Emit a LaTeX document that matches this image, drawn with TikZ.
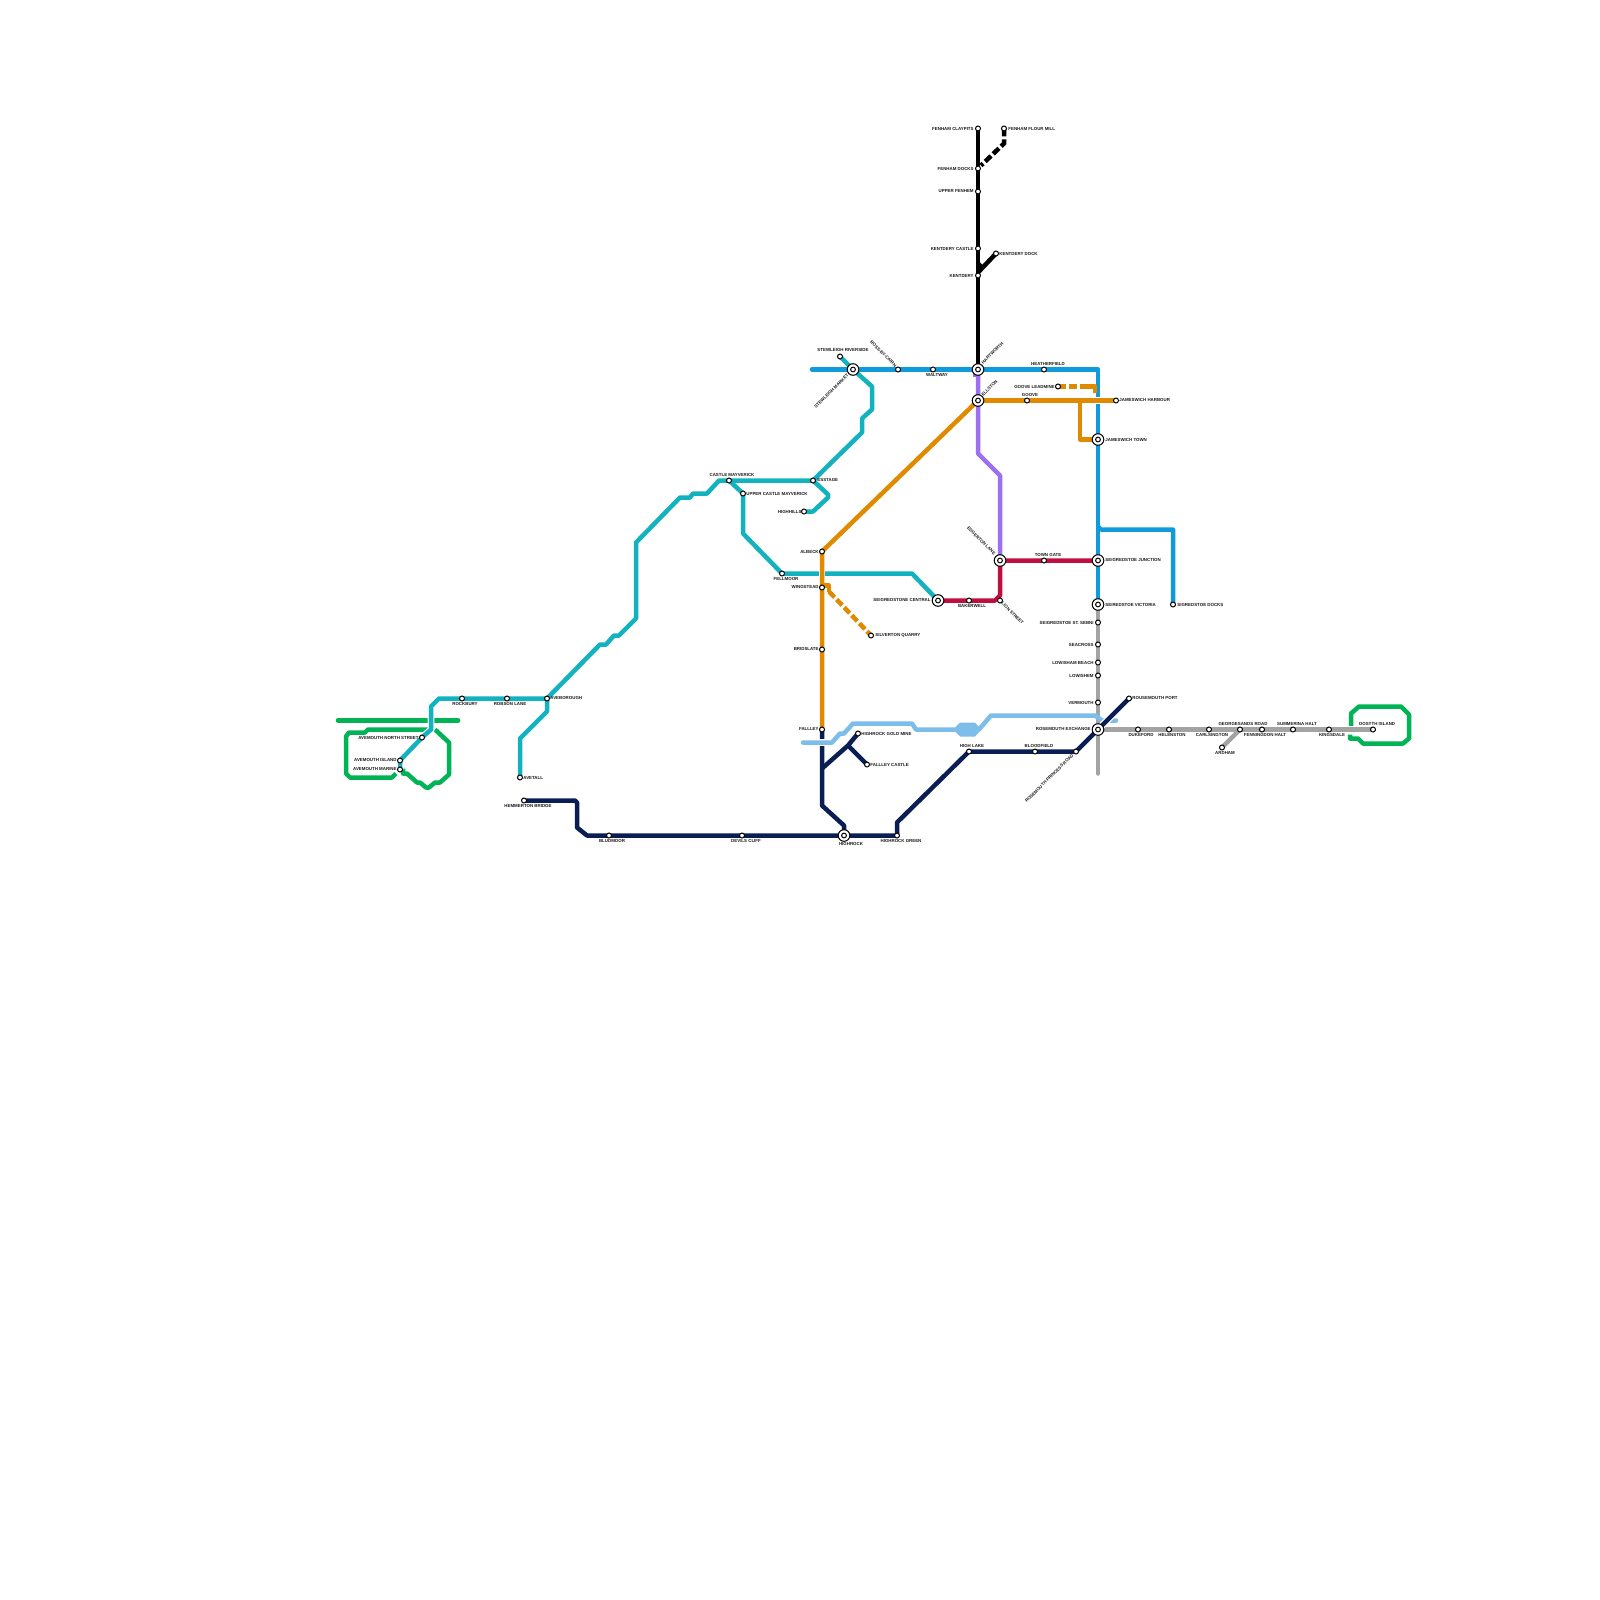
\documentclass[tikz,border=0pt]{standalone}
\usepackage{fontspec}
\setmainfont{Liberation Sans}
\usepackage{xcolor}
\usetikzlibrary{backgrounds}
\definecolor{mapteal}{HTML}{12B3BF}
\definecolor{mapblue}{HTML}{0E9ADB}
\definecolor{maporange}{HTML}{E08A00}
\definecolor{mappurple}{HTML}{9C70EE}
\definecolor{mapred}{HTML}{C00F3E}
\definecolor{mapnavy}{HTML}{0B1E54}
\definecolor{mapsky}{HTML}{7CBDEA}
\definecolor{mapgray}{HTML}{A3A3A3}
\definecolor{mapgreen}{HTML}{00B354}

\begin{document}
\begin{tikzpicture}[x=0.5pt, y=-0.5pt,
    stn/.style={circle, draw=black, fill=white, line width=0.5pt,
                minimum size=2.5pt, inner sep=0pt},
    xchg/.style={circle, draw=black, fill=white, line width=0.5pt,
                 minimum size=5.8pt, inner sep=0pt},
    xcore/.style={circle, draw=black, fill=white, line width=0.5pt,
                  minimum size=2.4pt, inner sep=0pt},
    lab/.style={font=\fontsize{2.2}{2.5}\selectfont\bfseries, text=black!90,
                inner sep=0pt},
    route/.style={line width=2.25pt, line join=round},
    cased/.style={route, preaction={draw=white, line width=3.4pt}},
    dashes/.style={line width=2.25pt, dash pattern=on 4pt off 1.5pt}]
  \useasboundingbox (0,-0.5) rectangle (1600,1599.5);

  % stations
  \foreach \n/\x/\y in {northst/422/737, isaund/400/760, marine/400/769,
      rockbury/462/698, robson/507/698, avebor/547/698, avetall/520/777,
      hemmerton/524/800, bludmoor/609/835, devils/742/835,
      hrgreen/897/835, highlake/969/751, bloodfield/1035/751, princess/1076/751,
      port/1129/698, goldmine/858/733, flcastle/867/764, fallley/822/729,
      bridslate/822/649, wingstead/822/587, albeck/822/551, silverton/871/635,
      fellmoor/782/573, highhills/804/511, esstage/813/480, upcastle/743/493,
      castle/729/480, riverside/840/356, rosscairn/898/369, waltway/933/369,
      claypits/978/128, docks/978/168, upfenham/978/191, kcastle/978/248,
      kentdery/978/275, kdock/996/253, flourmill/1004/128, heather/1044/369,
      leadmine/1058/386, goove/1027/400, harbour/1116/400, towngate/1044/560,
      bakerwell/969/600, lionst/1000/600, sigdocks/1173/604, sebni/1098/622,
      seacross/1098/644, lowbeach/1098/662, lowishem/1098/675, vermouth/1098/702,
      dukeford/1138/729, helenston/1169/729, carlsing/1209/729, georges/1240/729,
      ardham/1222/747, fenning/1262/729, summerina/1293/729, kingsdale/1329/729,
      oosyth/1373/729}
    \node[stn] (\n) at (\x,\y) {};
  \foreach \n/\x/\y in {market/853/369, hartworth/978/369, ellston/978/400,
      jamestown/1098/439, junction/1098/560, victoria/1098/604, edgerton/1000/560,
      central/938/600, exchange/1098/729, highrock/844/835} {
    \node[xchg] (\n) at (\x,\y) {};
    \node[xcore] (\n core) at (\n) {};
  }

  % labels
  \foreach \n/\t/\x/\y in {northst/AVEMOUTH NORTH STREET/419/737,
      isaund/AVEMOUTH ISLAND/397/759, marine/AVEMOUTH MARINE/397/768,
      highhills/HIGHHILLS/802/511, albeck/ALBECK/819/551, wingstead/WINGSTEAD/819/586,
      central/SEIGREDSTONE CENTRAL/931/599, bridslate/BRIDSLATE/819/648,
      fallley/FALLLEY/819/728, claypits/FENHAM CLAYPITS/974/128, docks/FENHAM DOCKS/974/168,
      upfenham/UPPER FENHEM/974/191, kcastle/KENTDERY CASTLE/974/248, kentdery/KENTDERY/974/275,
      leadmine/GOOVE LEADMINE/1055/386, sebni/SEIGREDSTOE ST. SEBNI/1094/622,
      seacross/SEACROSS/1094/644, lowbeach/LOWISHAM BEACH/1094/662, lowishem/LOWISHEM/1094/675,
      vermouth/VERMOUTH/1094/702, exchange/ROSEMOUTH EXCHANGE/1091/728}
    \node[lab, anchor=east] (\n lab) at (\x,\y) {\t};
  \foreach \n/\t/\x/\y in {avebor/AVEBOROUGH/550/697, avetall/AVETALL/523/777,
      esstage/ESSTAGE/817/479, upcastle/UPPER CASTLE MAYVERICK/746/493,
      silverton/SILVERTON QUARRY/875/635, flourmill/FENHAM FLOUR MILL/1008/128,
      kdock/KENTDERY DOCK/999/253, harbour/JAMESWICH HARBOUR/1119/399,
      jamestown/JAMESWICH TOWN/1105/439, junction/SEIGREDSTOE JUNCTION/1105/559,
      victoria/SEIREDSTOE VICTORIA/1105/604, sigdocks/SIGREDSTOE DOCKS/1177/604,
      goldmine/HIGHROCK GOLD MINE/861/733, flcastle/FALLLEY CASTLE/870/764,
      port/ROUSEMOUTH PORT/1132/697}
    \node[lab, anchor=west] (\n lab) at (\x,\y) {\t};
  \foreach \n/\t/\x/\y in {rockbury/ROCKBURY/465/703, robson/ROBSON LANE/510/703,
      hemmerton/HEMMERTON BRIDGE/528/805, bludmoor/BLUDMOOR/612/840, devils/DEVILS CLIFF/746/840,
      highrock/HIGHROCK/851/843, hrgreen/HIGHROCK GREEN/901/840, highlake/HIGH LAKE/972/745,
      bloodfield/BLOODFIELD/1039/745, riverside/STEWLEIGH RIVERSIDE/843/349,
      castle/CASTLE MAYVERICK/732/474, fellmoor/FELLMOOR/786/578, waltway/WALTWAY/937/374,
      heather/HEATHERFIELD/1048/363, goove/GOOVE/1030/394, towngate/TOWN GATE/1048/554,
      bakerwell/BAKERWELL/972/605, dukeford/DUKEFORD/1141/734, helenston/HELENSTON/1172/734,
      carlsing/CARLSINGTON/1212/734, ardham/ARDHAM/1225/752, georges/GEORGESANDS ROAD/1243/723,
      fenning/FENNINGDON HALT/1265/734, summerina/SUMMERINA HALT/1297/723,
      kingsdale/KINGSDALE/1332/734, oosyth/OOSYTH ISLAND/1377/723}
    \node[lab] (\n lab) at (\x,\y) {\t};
  \node[lab, rotate=-45, anchor=east] (rosscairn lab) at (896,366) {ROSS-BY-CAIRN};
  \node[lab, rotate=45, anchor=east] (market lab) at (848,374) {STEWLEIGH MARKET};
  \node[lab, rotate=45, anchor=west] (hartworth lab) at (982,363) {HARTWORTH};
  \node[lab, rotate=45, anchor=west] (ellston lab) at (982,395) {ELLSTON};
  \node[lab, rotate=-45, anchor=east] (edgerton lab) at (995,554) {EDGERTON LANE};
  \node[lab, rotate=-45, anchor=west] (lionst lab) at (1002,602) {LION STREET};
  \node[lab, rotate=45, anchor=east] (princess lab) at (1073,754) {ROSEMOUTH PRINCESS ROAD};

  \begin{scope}[on background layer]
  \fill[white] (0,-0.5) rectangle (1600,1599.5);
  % green
  \draw[route, mapgreen, line cap=round] (338,720) -- (458,720);
  \draw[route, mapgreen] (428,729) -- (368,729) -- (365,732) -- (349,732) -- (346,736)
        -- (346,773) -- (350,777) -- (392,777) -- (396,773);
  \draw[route, mapgreen] (435,729) -- (449,742) -- (449,774) -- (440,782) -- (435,782)
        -- (429,787) -- (426,787) -- (420,782) -- (417,782) -- (407,773) -- (403,773) -- (403,768);
  \draw[route, mapgreen] (1351,726) -- (1351,713) -- (1359,706) -- (1401,706) -- (1409,714)
        -- (1409,738) -- (1403,743) -- (1363,743) -- (1358,738) -- (1350,738) -- (1350,734);
  % grey
  \draw[route, mapgray, line cap=round] (victoria.center) -- (sebni.center) -- (seacross.center)
        -- (lowbeach.center) -- (lowishem.center) -- (vermouth.center) -- (exchange.center) -- (1098,773);
  \draw[cased, mapgray] (exchange.center) -- (dukeford.center) -- (helenston.center) -- (carlsing.center)
        -- (georges.center) -- (fenning.center) -- (summerina.center) -- (kingsdale.center) -- (oosyth.center);
  \draw[route, mapgray] (ardham.center) -- (georges.center);
  % blue
  \draw[route, mapblue, line cap=round] (812,369) -- (market.center) -- (rosscairn.center)
        -- (waltway.center) -- (hartworth.center) -- (heather.center) -- (1098,369) -- (1098,397);
  \draw[route, mapblue] (1098,403) -- (jamestown.center) -- (junction.center) -- (victoria.center);
  \draw[route, mapblue] (1098,526) -- (1101,529) -- (1173,529) -- (sigdocks.center);
  % teal
  \draw[cased, mapteal] (marine.center) -- (isaund.center) -- (northst.center) -- (431,729) -- (431,706)
        -- (439,698) -- (rockbury.center) -- (robson.center) -- (avebor.center)
        -- (547,711) -- (520,738) -- (avetall.center);
  \draw[route, mapteal] (avebor.center) -- (600,644) -- (606,644) -- (614,635) -- (619,635)
        -- (636,618) -- (636,542) -- (680,497) -- (690,497) -- (693,493) -- (707,493)
        -- (719,480) -- (castle.center) -- (esstage.center) -- (862,432) -- (862,418)
        -- (872,409) -- (872,386) -- (market.center) -- (riverside.center);
  \draw[route, mapteal] (esstage.center) -- (828,494) -- (828,497) -- (813,511) -- (highhills.center);
  \draw[route, mapteal] (castle.center) -- (upcastle.center) -- (743,533) -- (fellmoor.center)
        -- (912,573) -- (central.center);
  % sky
  \fill[mapsky] (953,729) -- (960,722) -- (975,722) -- (981,729) -- (975,736) -- (960,736) -- cycle;
  % navy
  \draw[route, mapnavy] (fallley.center) -- (822,805) -- (844,825) -- (highrock.center);
  \draw[route, mapnavy] (822,768) -- (848,745) -- (goldmine.center);
  \draw[route, mapnavy] (848,745) -- (flcastle.center);
  \draw[route, mapnavy] (hemmerton.center) -- (575,800) -- (577,802) -- (577,827) -- (587,835)
        -- (bludmoor.center) -- (devils.center) -- (highrock.center) -- (hrgreen.center)
        -- (897,822) -- (highlake.center) -- (bloodfield.center) -- (princess.center);
  \draw[cased, mapsky, line cap=round] (803,742) -- (832,742) -- (840,733) -- (844,733) -- (853,723)
        -- (912,723) -- (916,729) -- (955,729);
  \draw[route, mapsky, line cap=round] (979,729) -- (991,715) -- (1095,715) -- (1102,720) -- (1116,720);
  \draw[cased, mapnavy] (princess.center) -- (exchange.center) -- (port.center);
  % orange
  \draw[cased, maporange] (ellston.center) -- (goove.center) -- (harbour.center);
  \draw[route, maporange] (1080,401) -- (1080,439) -- (jamestown.center);
  \draw[route, white, line width=3.4pt] (822,566) -- (822,580);
  \draw[route, maporange] (ellston.center) -- (albeck.center) -- (wingstead.center)
        -- (bridslate.center) -- (fallley.center);
  \draw[route, maporange] (822,585) -- (829,585) -- (829,591);
  \draw[dashes, maporange] (829,591) -- (silverton.center);
  \draw[dashes, maporange] (leadmine.center) -- (1090,386);
  \draw[route, maporange] (1088,386) -- (1095,386) -- (1095,392);
  % red
  \draw[route, mapred] (central.center) -- (bakerwell.center) -- (995,600) -- (1000,595)
        -- (edgerton.center) -- (towngate.center) -- (junction.center);
  % purple
  \draw[route, mappurple] (973,374) -- (978,374) -- (978,453) -- (1000,475) -- (edgerton.center);
  % black
  \draw[route, black] (claypits.center) -- (docks.center) -- (upfenham.center) -- (kcastle.center)
        -- (kentdery.center) -- (hartworth.center);
  \draw[route, black] (978,272) -- (kdock.center);
  \draw[route, black] (978,263) -- (983,268);
  \draw[dashes, black] (flourmill.center) -- (1004,143) -- (981,165);
  \end{scope}
\end{tikzpicture}
\end{document}
